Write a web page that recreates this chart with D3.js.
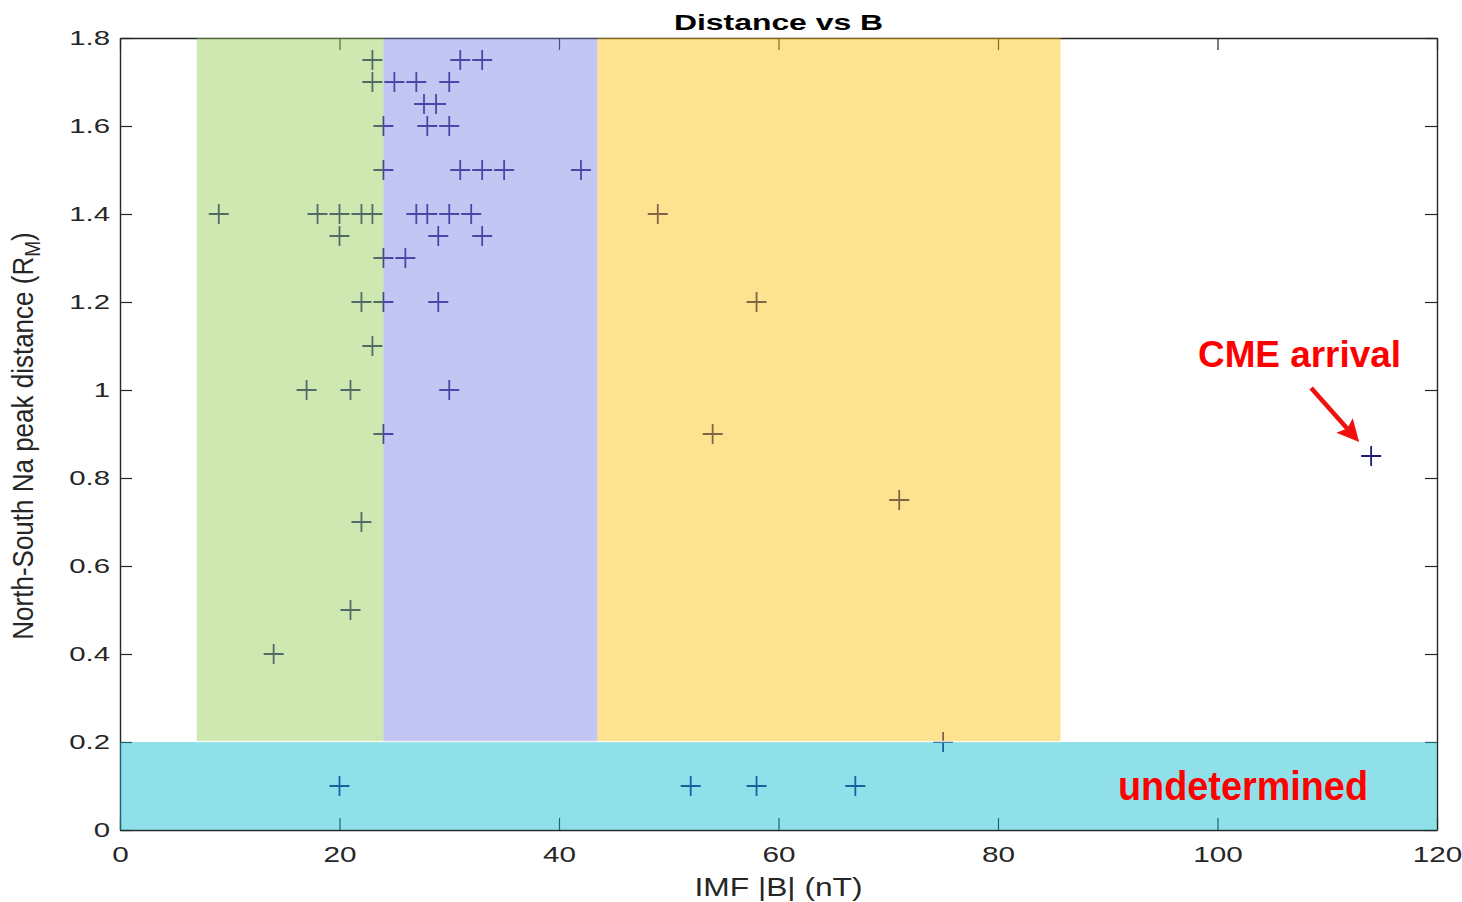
<!DOCTYPE html>
<html>
<head>
<meta charset="utf-8">
<script src="https://cdn.jsdelivr.net/npm/d3@7"></script>
<style>
  body { margin: 0; background: #fff; }
  svg { display: block; }
  text { font-family: "Liberation Sans", Arial, Helvetica, sans-serif; }
</style>
</head>
<body>
<svg id="chart" width="1462" height="902"></svg>
<script>
// IMF |B| (nT) and north-south Na peak separation (R_M) for each observation
const imfB = [
  23, 31, 33,
  23, 25, 27, 30,
  27.7, 28.8,
  24, 28, 30,
  24, 31, 33, 35, 42,
  9, 18, 20, 22, 23, 27, 28, 30, 32, 49,
  20, 29, 33,
  24, 26,
  22, 24, 29, 58,
  23,
  17, 21, 30,
  24, 54,
  114,
  71,
  22,
  21,
  14,
  75,
  20, 52, 58, 67
];
const nsDistance = [
  1.75, 1.75, 1.75,
  1.7, 1.7, 1.7, 1.7,
  1.65, 1.65,
  1.6, 1.6, 1.6,
  1.5, 1.5, 1.5, 1.5, 1.5,
  1.4, 1.4, 1.4, 1.4, 1.4, 1.4, 1.4, 1.4, 1.4, 1.4,
  1.35, 1.35, 1.35,
  1.3, 1.3,
  1.2, 1.2, 1.2, 1.2,
  1.1,
  1.0, 1.0, 1.0,
  0.9, 0.9,
  0.85,
  0.75,
  0.7,
  0.5,
  0.4,
  0.2,
  0.1, 0.1, 0.1, 0.1
];

const xTicks = [0, 20, 40, 60, 80, 100, 120];
const xTickLabels = ["0", "20", "40", "60", "80", "100", "120"];
const yTicks = [0, 0.2, 0.4, 0.6, 0.8, 1.0, 1.2, 1.4, 1.6, 1.8];
const yTickLabels = ["0", "0.2", "0.4", "0.6", "0.8", "1", "1.2", "1.4", "1.6", "1.8"];

// Shaded regimes: |B| ranges over the determined distances, plus the undetermined strip
const bandXStart = [7, 24, 43.5, 0];
const bandXEnd = [24, 43.5, 85.7, 120];
const bandYStart = [0.2, 0.2, 0.2, 0];
const bandYEnd = [1.8, 1.8, 1.8, 0.2];
const bandColors = ["rgb(148,204,82)", "rgb(122,128,226)", "rgb(250,190,8)", "rgb(8,186,208)"];

const cmePoint = { b: 114, d: 0.85 };

const svg = d3.select("#chart");
const margin = { left: 120, right: 25, top: 38, bottom: 72 };
const W = 1462, H = 902;

const x = d3.scaleLinear().domain([0, 120]).range([margin.left, W - margin.right]);
const y = d3.scaleLinear().domain([0, 1.8]).range([H - margin.bottom, margin.top]);

const axisColor = "#262626";
const tickLen = 12;
const sxTick = 1.35;

// Axes box with inward ticks on all four sides
const gBottom = svg.append("g").attr("transform", `translate(0,${y(0)})`)
  .call(d3.axisBottom(x).tickValues(xTicks).tickFormat((d, i) => xTickLabels[i])
    .tickSizeInner(-tickLen).tickSizeOuter(0).tickPadding(16));
const gTop = svg.append("g").attr("transform", `translate(0,${y(1.8)})`)
  .call(d3.axisTop(x).tickValues(xTicks).tickFormat("").tickSizeInner(-tickLen).tickSizeOuter(0));
const gLeft = svg.append("g").attr("transform", `translate(${x(0)},0)`)
  .call(d3.axisLeft(y).tickValues(yTicks).tickFormat((d, i) => yTickLabels[i])
    .tickSizeInner(-tickLen).tickSizeOuter(0).tickPadding(10));
const gRight = svg.append("g").attr("transform", `translate(${x(120)},0)`)
  .call(d3.axisRight(y).tickValues(yTicks).tickFormat("").tickSizeInner(-tickLen).tickSizeOuter(0));

[gBottom, gTop, gLeft, gRight].forEach(g => {
  g.select(".domain").attr("stroke", axisColor).attr("stroke-width", 1.4);
  g.selectAll(".tick line").attr("stroke", axisColor).attr("stroke-width", 1.2);
});
gBottom.selectAll(".tick text")
  .attr("font-size", 22).attr("fill", axisColor)
  .attr("transform", `scale(${sxTick},1)`);
gLeft.selectAll(".tick text")
  .attr("font-size", 21).attr("fill", axisColor)
  .attr("x", -10 / 1.4)
  .attr("transform", "scale(1.4,1)");

// Observations as plus markers
svg.append("g").selectAll("path.obs")
  .data(imfB.map((b, i) => [b, nsDistance[i]]))
  .join("path")
  .attr("class", "obs")
  .attr("transform", d => `translate(${x(d[0])},${y(d[1])})`)
  .attr("d", "M-10,0H10M0,-10V10")
  .attr("fill", "none")
  .attr("stroke", "#1c1c78")
  .attr("stroke-width", 1.8);

// Translucent regime bands laid over the plot
svg.append("g").selectAll("rect.band")
  .data(bandColors.map((c, i) => ({ x0: bandXStart[i], x1: bandXEnd[i], y0: bandYStart[i], y1: bandYEnd[i], c })))
  .join("rect")
  .attr("class", "band")
  .attr("x", d => x(d.x0))
  .attr("width", d => x(d.x1) - x(d.x0))
  .attr("y", d => y(d.y1))
  .attr("height", d => y(d.y0) - y(d.y1))
  .attr("fill", d => d.c)
  .attr("fill-opacity", 0.45);

// light seam where the regime bands meet the undetermined strip
svg.append("line")
  .attr("x1", x(bandXStart[0])).attr("x2", x(bandXEnd[2]))
  .attr("y1", y(0.2) - 0.5).attr("y2", y(0.2) - 0.5)
  .attr("stroke", "#fff").attr("stroke-opacity", 0.75).attr("stroke-width", 1.5);

// Title and axis labels
svg.append("text")
  .attr("transform", `translate(${(x(0) + x(120)) / 2},30) scale(1.45,1)`)
  .attr("text-anchor", "middle")
  .attr("font-size", 22).attr("font-weight", "bold").attr("fill", "#000")
  .text("Distance vs B");

svg.append("text")
  .attr("transform", `translate(${(x(0) + x(120)) / 2},896) scale(1.27,1)`)
  .attr("text-anchor", "middle")
  .attr("font-size", 25).attr("fill", axisColor)
  .text("IMF |B| (nT)");

const yLabel = svg.append("text")
  .attr("transform", `translate(33,${(y(0) + y(1.8)) / 2 + 2}) scale(1.12,1) rotate(-90)`)
  .attr("text-anchor", "middle")
  .attr("font-size", 26).attr("fill", axisColor);
yLabel.append("tspan").text("North-South Na peak distance (R");
yLabel.append("tspan").attr("font-size", 19).attr("dy", 6).text("M");
yLabel.append("tspan").attr("dy", -6).text(")");

// Annotations
svg.append("text")
  .attr("x", 1198).attr("y", 367)
  .attr("font-family", "Lato, 'Open Sans', sans-serif")
  .attr("font-size", 37).attr("font-weight", "bold").attr("fill", "#ff0000")
  .attr("textLength", 203).attr("lengthAdjust", "spacingAndGlyphs")
  .text("CME arrival");

svg.append("text")
  .attr("x", 1118).attr("y", 800)
  .attr("font-family", "Lato, 'Open Sans', sans-serif")
  .attr("font-size", 40).attr("font-weight", "bold").attr("fill", "#ff0000")
  .attr("textLength", 250).attr("lengthAdjust", "spacingAndGlyphs")
  .text("undetermined");

// Arrow pointing at the CME-arrival observation
const tipX = x(cmePoint.b) - 12, tipY = y(cmePoint.d) - 14;
const startX = tipX - 48, startY = tipY - 54;
const ang = Math.atan2(tipY - startY, tipX - startX);
const headLen = 22, headHalf = 11;
const bx = tipX - headLen * Math.cos(ang), by = tipY - headLen * Math.sin(ang);
svg.append("line")
  .attr("x1", startX).attr("y1", startY).attr("x2", bx + 4 * Math.cos(ang)).attr("y2", by + 4 * Math.sin(ang))
  .attr("stroke", "#f01010").attr("stroke-width", 4.5);
svg.append("path")
  .attr("d", `M${tipX},${tipY}L${bx - headHalf * Math.sin(ang)},${by + headHalf * Math.cos(ang)}L${bx + 4 * Math.cos(ang)},${by + 4 * Math.sin(ang)}L${bx + headHalf * Math.sin(ang)},${by - headHalf * Math.cos(ang)}Z`)
  .attr("fill", "#f01010");
</script>
</body>
</html>
